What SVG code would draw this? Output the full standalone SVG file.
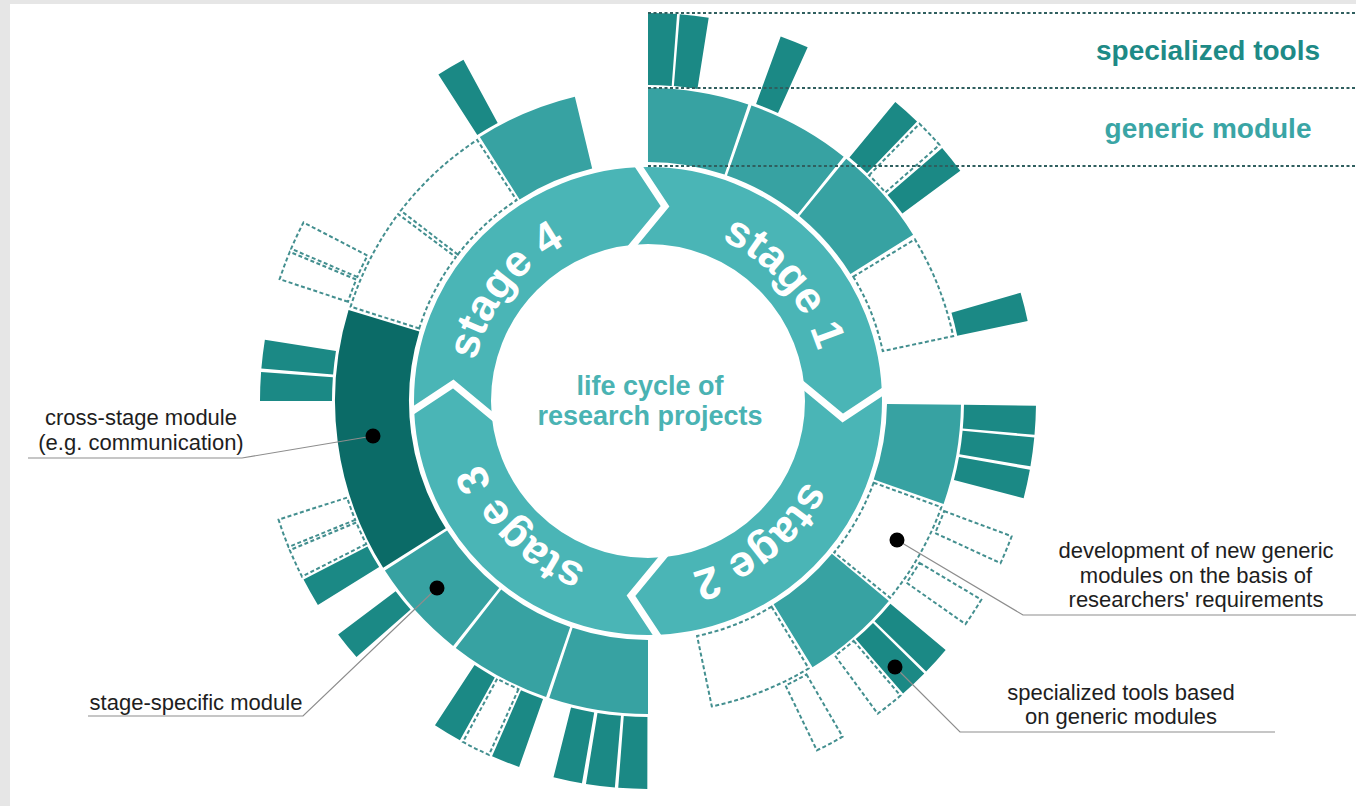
<svg xmlns="http://www.w3.org/2000/svg" xmlns:xlink="http://www.w3.org/1999/xlink" width="1356" height="806" viewBox="0 0 1356 806">
<style>
.m{fill:none;stroke:#37a2a2;stroke-width:74}
.x{fill:none;stroke:#0b6b67;stroke-width:74}
.t{fill:#1b8985}
.d{fill:#fff;stroke:#438f8f;stroke-width:2;stroke-dasharray:4 2.5}
.chev{fill:none;stroke:#fff;stroke-width:7;stroke-linejoin:miter}
.st{font-family:"Liberation Sans",Arial,sans-serif;font-weight:bold;font-size:44px;fill:#fff;text-anchor:middle}
.ctr{font-family:"Liberation Sans",Arial,sans-serif;font-weight:bold;font-size:27px;fill:#4ab3b3;text-anchor:middle}
.lbl{font-family:"Liberation Sans",Arial,sans-serif;font-size:22px;fill:#1e1e1e;text-anchor:middle}
.hdr{font-family:"Liberation Sans",Arial,sans-serif;font-weight:bold;font-size:28px;text-anchor:middle}
.c{fill:none;stroke:#8d8d8d;stroke-width:1.2}
.dot{fill:#000}
.hl{stroke:#2f5f5f;stroke-width:2;stroke-dasharray:3 2.5}
</style>
<defs>
<path id="tool" d="M648,85 L648,13 A388,388 0 0 1 677.09,14.09 L671.69,85.89 A316,316 0 0 0 648,85 Z"/>
<path id="dmod" d="M648,161 L648,89 A312,312 0 0 1 750.61,106.35 L726.93,174.35 A240,240 0 0 0 648,161 Z"/>
<path id="tp" d="M648,224 A177,177 0 1 1 648,578 A177,177 0 1 1 648,224" fill="none"/>
</defs>
<rect width="1356" height="806" fill="#e6e6e6"/>
<rect x="10" y="4" width="1346" height="802" fill="#fff"/>

<g id="stage-ring">
<circle cx="648" cy="401" r="195.5" fill="none" stroke="#4ab5b6" stroke-width="77"/>
<polyline class="chev" points="637.25,164.24 665.04,206.24 630.57,247.99"/>
<polyline class="chev" points="637.25,164.24 665.04,206.24 630.57,247.99" transform="rotate(90 648 401)"/>
<polyline class="chev" points="637.25,164.24 665.04,206.24 630.57,247.99" transform="rotate(180 648 401)"/>
<polyline class="chev" points="637.25,164.24 665.04,206.24 630.57,247.99" transform="rotate(270 648 401)"/>
</g>
<g id="stage1"><text class="st"><textPath xlink:href="#tp" href="#tp" startOffset="151.4">stage 1</textPath></text></g>
<g id="stage2"><text class="st"><textPath xlink:href="#tp" href="#tp" startOffset="436.2">stage 2</textPath></text></g>
<g id="stage3"><text class="st"><textPath xlink:href="#tp" href="#tp" startOffset="694.8">stage 3</textPath></text></g>
<g id="stage4"><text class="st"><textPath xlink:href="#tp" href="#tp" startOffset="950">stage 4</textPath></text></g>

<g id="center-label">
<text class="ctr" x="650" y="395">life cycle of</text>
<text class="ctr" x="650" y="425">research projects</text>
</g>

<g id="modules">
<g id="mod-s1-a"><circle class="m" cx="648" cy="401" r="276" stroke-dasharray="90.08 2000" transform="rotate(-90 648 401)"/></g>
<g id="mod-s1-b"><circle class="m" cx="648" cy="401" r="276" stroke-dasharray="93.45 2000" transform="rotate(-70.7 648 401)"/></g>
<g id="mod-s1-c"><circle class="m" cx="648" cy="401" r="276" stroke-dasharray="89.6 2000" transform="rotate(-50.7 648 401)"/></g>
<g id="mod-s1-new"><use href="#dmod" xlink:href="#dmod" class="d" transform="rotate(58.8 648 401)"/></g>
<g id="mod-s2-a"><circle class="m" cx="648" cy="401" r="276" stroke-dasharray="89.12 2000" transform="rotate(0.7 648 401)"/></g>
<g id="mod-s2-new"><use href="#dmod" xlink:href="#dmod" class="d" transform="rotate(109.9 648 401)"/></g>
<g id="mod-s2-b"><circle class="m" cx="648" cy="401" r="276" stroke-dasharray="89.6 2000" transform="rotate(39.7 648 401)"/></g>
<g id="mod-s2-new2"><use href="#dmod" xlink:href="#dmod" class="d" transform="rotate(149 648 401)"/></g>
<g id="mod-s3-a"><circle class="m" cx="648" cy="401" r="276" stroke-dasharray="88.63 2000" transform="rotate(90 648 401)"/></g>
<g id="mod-s3-b"><circle class="m" cx="648" cy="401" r="276" stroke-dasharray="91.04 2000" transform="rotate(109 648 401)"/></g>
<g id="mod-s3-c"><circle class="m" cx="648" cy="401" r="276" stroke-dasharray="90.08 2000" transform="rotate(128.5 648 401)"/></g>
<g id="mod-cross"><circle class="x" cx="648" cy="401" r="276" stroke-dasharray="236.52 2000" transform="rotate(147.8 648 401)"/></g>
<g id="mod-s4-new"><use href="#dmod" xlink:href="#dmod" class="d" transform="rotate(287.6 648 401)"/></g>
<g id="mod-s4-new2"><use href="#dmod" xlink:href="#dmod" class="d" transform="rotate(307.6 648 401)"/></g>
<g id="mod-s4-a"><circle class="m" cx="648" cy="401" r="276" stroke-dasharray="91.52 2000" transform="rotate(237.5 648 401)"/></g>
</g>

<g id="tools">
<g id="tool-1"><use href="#tool" xlink:href="#tool" class="t" transform="rotate(0 648 401)"/></g>
<g id="tool-2"><use href="#tool" xlink:href="#tool" class="t" transform="rotate(4.7 648 401)"/></g>
<g id="tool-3"><use href="#tool" xlink:href="#tool" class="t" transform="rotate(20 648 401)"/></g>
<g id="tool-4"><use href="#tool" xlink:href="#tool" class="t" transform="rotate(39.6 648 401)"/></g>
<g id="tool-5"><use href="#tool" xlink:href="#tool" class="d" transform="rotate(44.4 648 401)"/></g>
<g id="tool-6"><use href="#tool" xlink:href="#tool" class="t" transform="rotate(49.3 648 401)"/></g>
<g id="tool-7"><use href="#tool" xlink:href="#tool" class="t" transform="rotate(73.8 648 401)"/></g>
<g id="tool-8"><use href="#tool" xlink:href="#tool" class="t" transform="rotate(90.7 648 401)"/></g>
<g id="tool-9"><use href="#tool" xlink:href="#tool" class="t" transform="rotate(95.4 648 401)"/></g>
<g id="tool-10"><use href="#tool" xlink:href="#tool" class="t" transform="rotate(100.2 648 401)"/></g>
<g id="tool-11"><use href="#tool" xlink:href="#tool" class="d" transform="rotate(110.4 648 401)"/></g>
<g id="tool-12"><use href="#tool" xlink:href="#tool" class="d" transform="rotate(120.8 648 401)"/></g>
<g id="tool-13"><use href="#tool" xlink:href="#tool" class="t" transform="rotate(129.9 648 401)"/></g>
<g id="tool-14"><use href="#tool" xlink:href="#tool" class="t" transform="rotate(134.6 648 401)"/></g>
<g id="tool-15"><use href="#tool" xlink:href="#tool" class="d" transform="rotate(139.4 648 401)"/></g>
<g id="tool-16"><use href="#tool" xlink:href="#tool" class="d" transform="rotate(149.9 648 401)"/></g>
<g id="tool-17"><use href="#tool" xlink:href="#tool" class="t" transform="rotate(180.1 648 401)"/></g>
<g id="tool-18"><use href="#tool" xlink:href="#tool" class="t" transform="rotate(184.9 648 401)"/></g>
<g id="tool-19"><use href="#tool" xlink:href="#tool" class="t" transform="rotate(189.8 648 401)"/></g>
<g id="tool-20"><use href="#tool" xlink:href="#tool" class="t" transform="rotate(199.4 648 401)"/></g>
<g id="tool-21"><use href="#tool" xlink:href="#tool" class="d" transform="rotate(204.2 648 401)"/></g>
<g id="tool-22"><use href="#tool" xlink:href="#tool" class="t" transform="rotate(209 648 401)"/></g>
<g id="tool-23"><use href="#tool" xlink:href="#tool" class="t" transform="rotate(228.7 648 401)"/></g>
<g id="tool-24"><use href="#tool" xlink:href="#tool" class="t" transform="rotate(238.3 648 401)"/></g>
<g id="tool-25"><use href="#tool" xlink:href="#tool" class="d" transform="rotate(243.1 648 401)"/></g>
<g id="tool-26"><use href="#tool" xlink:href="#tool" class="d" transform="rotate(247.9 648 401)"/></g>
<g id="tool-27"><use href="#tool" xlink:href="#tool" class="t" transform="rotate(270 648 401)"/></g>
<g id="tool-28"><use href="#tool" xlink:href="#tool" class="t" transform="rotate(274.8 648 401)"/></g>
<g id="tool-29"><use href="#tool" xlink:href="#tool" class="d" transform="rotate(288.3 648 401)"/></g>
<g id="tool-30"><use href="#tool" xlink:href="#tool" class="d" transform="rotate(293.1 648 401)"/></g>
<g id="tool-31"><use href="#tool" xlink:href="#tool" class="t" transform="rotate(327.3 648 401)"/></g>
</g>

<g id="legend-lines">
<line class="hl" x1="648" y1="13" x2="1356" y2="13"/>
<line class="hl" x1="648" y1="88" x2="1356" y2="88"/>
<line class="hl" x1="648" y1="166" x2="1356" y2="166"/>
</g>
<g id="legend-tools"><text class="hdr" x="1208" y="60" fill="#1e8a86">specialized tools</text></g>
<g id="legend-generic"><text class="hdr" x="1208" y="138" fill="#3aa5a5">generic module</text></g>

<g id="connectors">
<polyline class="c" points="373,436 242,458 28,458"/>
<polyline class="c" points="437,588 303,716 88,716"/>
<polyline class="c" points="897,540 1023,615 1356,615"/>
<polyline class="c" points="895,667 960,732 1275,732"/>
</g>

<g id="dots">
<circle class="dot" cx="373" cy="436" r="7.5"/>
<circle class="dot" cx="437" cy="588" r="7.5"/>
<circle class="dot" cx="897" cy="540" r="7.5"/>
<circle class="dot" cx="895" cy="667" r="7.5"/>
</g>

<g id="label-cross">
<text class="lbl" x="141" y="425">cross-stage module</text>
<text class="lbl" x="141" y="450">(e.g. communication)</text>
</g>
<g id="label-stage-specific">
<text class="lbl" x="196" y="710">stage-specific module</text>
</g>
<g id="label-development">
<text class="lbl" x="1196" y="558">development of new generic</text>
<text class="lbl" x="1196" y="583">modules on the basis of</text>
<text class="lbl" x="1196" y="607">researchers' requirements</text>
</g>
<g id="label-specialized">
<text class="lbl" x="1121" y="700">specialized tools based</text>
<text class="lbl" x="1121" y="724">on generic modules</text>
</g>
</svg>
